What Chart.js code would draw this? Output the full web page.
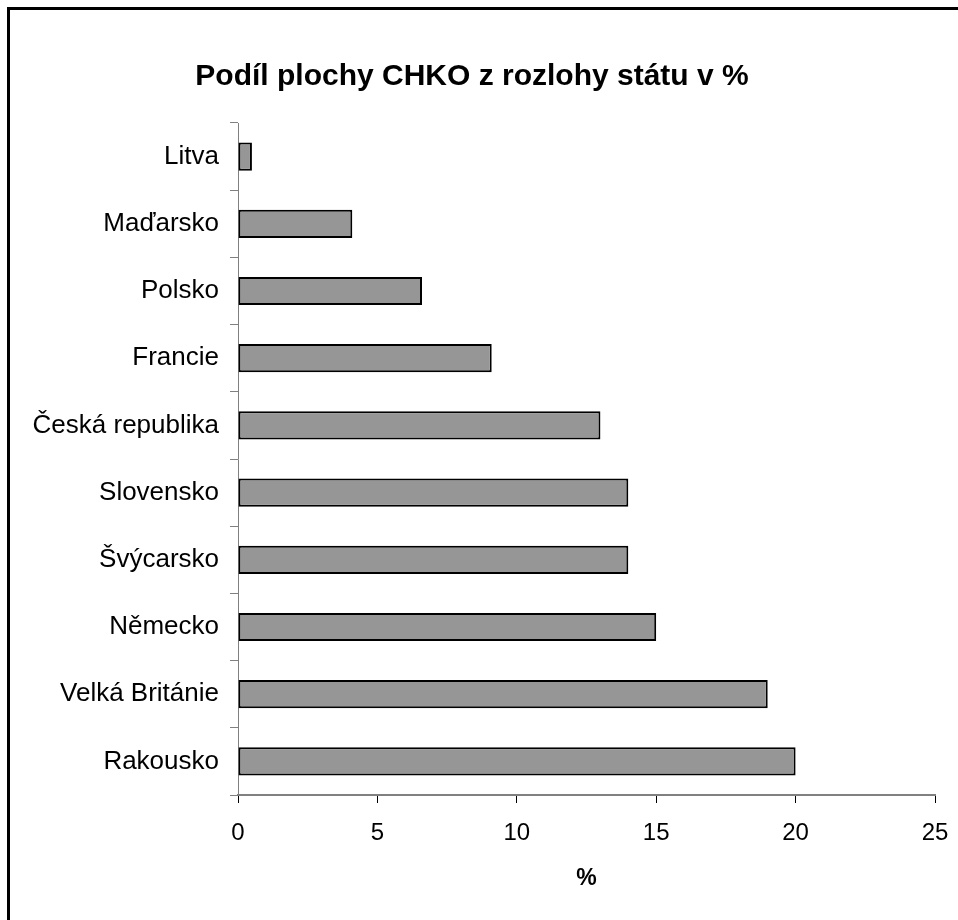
<!DOCTYPE html>
<html>
<head>
<meta charset="utf-8">
<script src="https://cdn.jsdelivr.net/npm/chart.js@4.4.1/dist/chart.umd.min.js"></script>
<style>
  html, body { margin: 0; padding: 0; background: #fff; }
  #wrap { position: relative; width: 958px; height: 920px; }
  #frame { position: absolute; left: 7px; top: 7px; right: -10px; bottom: -10px; border: 3px solid #000; pointer-events: none; }
  canvas { position: absolute; left: 0; top: 0; }
</style>
</head>
<body>
<div id="wrap">
  <canvas id="c" width="958" height="920"></canvas>
  <div id="frame"></div>
</div>
<script>
const categories = ["Litva", "Maďarsko", "Polsko", "Francie", "Česká republika", "Slovensko", "Švýcarsko", "Německo", "Velká Británie", "Rakousko"];
const shareValues = [0.5, 4.1, 6.6, 9.1, 13.0, 14.0, 14.0, 15.0, 19.0, 20.0];
const xTicks = [0, 5, 10, 15, 20, 25];
const titleText = "Podíl plochy CHKO z rozlohy státu v %";
const xAxisTitle = "%";

const FONT = "'Liberation Sans', Arial, Helvetica, sans-serif";

const titlePlugin = {
  id: 'customTitle',
  afterDraw(chart) {
    const ctx = chart.ctx;
    ctx.save();
    ctx.font = "bold 30px " + FONT;
    ctx.fillStyle = "#000";
    ctx.textAlign = "center";
    ctx.textBaseline = "middle";
    ctx.fillText(titleText, 472, 77);
    ctx.restore();
  }
};

new Chart(document.getElementById('c'), {
  type: 'bar',
  data: {
    labels: categories,
    datasets: [{
      data: shareValues,
      backgroundColor: '#969696',
      borderColor: '#000000',
      borderWidth: 2,
      borderSkipped: false,
      barPercentage: 0.42,
      categoryPercentage: 1.0
    }]
  },
  plugins: [titlePlugin],
  options: {
    indexAxis: 'y',
    responsive: false,
    animation: false,
    devicePixelRatio: 1,
    layout: { padding: { top: 123, right: 23, left: 0, bottom: 0 } },
    plugins: { legend: { display: false }, tooltip: { enabled: false }, title: { display: false } },
    scales: {
      x: {
        type: 'linear',
        min: 0, max: 25,
        afterBuildTicks(scale) { scale.ticks = xTicks.map(v => ({ value: v })); },
        afterFit(scale) { scale.height = 125; scale.paddingRight = 0; },
        grid: { drawOnChartArea: false, drawTicks: true, tickLength: 8, color: '#000', lineWidth: 1 },
        border: { display: true, color: '#808080', width: 2 },
        ticks: { color: '#000', font: { family: FONT, size: 24 }, padding: 16, maxRotation: 0 },
        title: { display: true, text: xAxisTitle, color: '#000', font: { family: FONT, size: 23, weight: 'bold' }, padding: { top: 0, bottom: 28 } }
      },
      y: {
        type: 'category',
        afterFit(scale) { scale.width = 238; },
        grid: { drawOnChartArea: false, drawTicks: true, tickLength: 8, color: '#808080', lineWidth: 1, offset: true },
        border: { display: true, color: '#808080', width: 1 },
        ticks: { color: '#000', font: { family: FONT, size: 26 }, padding: 11, autoSkip: false }
      }
    }
  }
});
</script>
</body>
</html>
